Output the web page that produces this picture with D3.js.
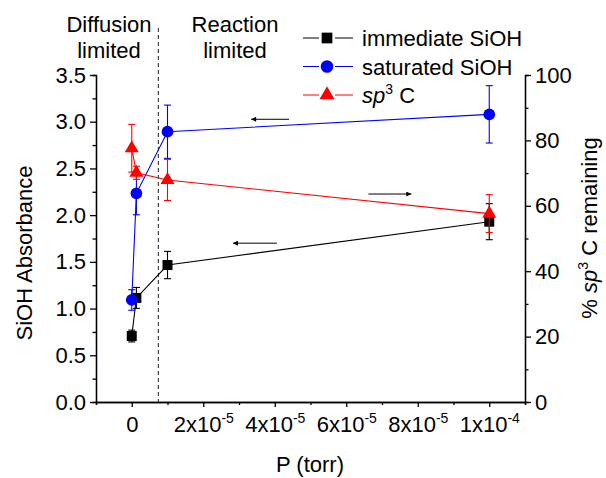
<!DOCTYPE html>
<html lang="en">
<head>
    <meta charset="UTF-8"/>
    <title>SiOH Absorbance vs Pressure</title>
    <script src="https://d3js.org/d3.v7.min.js"></script>
    <style>
        body { margin: 0; background: #fff; }
        svg text { font-family: "Liberation Sans", Arial, Helvetica, sans-serif; fill: #000; }
        .axis path, .axis line { stroke: #000; stroke-width: 1.3px; }
        .axis text { font-size: 22px; }
        .line { fill: none; stroke-width: 1.1px; }
    </style>
</head>
<body>
    <script>
        var w = 606;
        var h = 478;

        // pressure values (torr)
        var pressure = [0, 1.3e-6, 1e-5, 1e-4];

        // left axis series (SiOH absorbance)
        var immediateSiOH = [0.706, 1.114, 1.466, 1.93];
        var immediateErr = [0.063, 0.112, 0.146, 0.193];
        var saturatedSiOH = [1.092, 2.234, 2.893, 3.079];
        var saturatedErr = [0.11, 0.23, 0.285, 0.307];

        // right axis series (% sp3 C remaining)
        var sp3C = [77.6, 70.1, 67.9, 57.6];
        var sp3Err = [7.3, 2, 6.3, 5.8];

        var xTicks = [0, 2e-5, 4e-5, 6e-5, 8e-5, 1e-4];
        var xTickLabels = [["0", ""], ["2x10", "-5"], ["4x10", "-5"], ["6x10", "-5"], ["8x10", "-5"], ["1x10", "-4"]];
        var xMinorTicks = [-1e-5, 1e-5, 3e-5, 5e-5, 7e-5, 9e-5, 1.1e-4];
        var leftTicks = [0, 0.5, 1, 1.5, 2, 2.5, 3, 3.5];
        var leftMinorTicks = [0.25, 0.75, 1.25, 1.75, 2.25, 2.75, 3.25];
        var rightTicks = [0, 20, 40, 60, 80, 100];
        var rightMinorTicks = [10, 30, 50, 70, 90];

        // regime boundary (torr)
        var boundary = 7.45e-6;

        // arrows: [from x, to x, value, axis]
        var arrows = [
            [4.4e-5, 3.34e-5, 3.026, "left"],
            [4.06e-5, 2.83e-5, 1.70, "left"],
            [6.62e-5, 7.82e-5, 63.6, "right"]
        ];

        var xScale = d3.scaleLinear().domain([-1e-5, 1.1e-4]).range([96, 525]);
        var yLeft = d3.scaleLinear().domain([0, 3.5]).range([402, 75]);
        var yRight = d3.scaleLinear().domain([0, 100]).range([402, 75]);

        var svg = d3.select("body")
            .append("svg")
            .attr("width", w)
            .attr("height", h);

        svg.append("defs").append("marker")
            .attr("id", "arrowhead")
            .attr("viewBox", "0 0 10 10")
            .attr("refX", 10)
            .attr("refY", 5)
            .attr("markerWidth", 8)
            .attr("markerHeight", 5)
            .attr("markerUnits", "userSpaceOnUse")
            .attr("orient", "auto")
            .append("path")
            .attr("d", "M0,0L10,5L0,10Z")
            .attr("fill", "#000");

        // Minor ticks
        svg.append("g").attr("class", "axis")
            .attr("transform", "translate(0,402)")
            .call(d3.axisBottom(xScale).tickValues(xMinorTicks).tickSize(3).tickFormat(""));
        svg.append("g").attr("class", "axis")
            .attr("transform", "translate(96,0)")
            .call(d3.axisLeft(yLeft).tickValues(leftMinorTicks).tickSize(3.5).tickFormat(""));
        svg.append("g").attr("class", "axis")
            .attr("transform", "translate(525,0)")
            .call(d3.axisRight(yRight).tickValues(rightMinorTicks).tickSize(3.5).tickFormat(""));

        // X axis with superscript labels
        var xAxis = svg.append("g").attr("class", "axis")
            .attr("transform", "translate(0,402)")
            .call(d3.axisBottom(xScale).tickValues(xTicks).tickSize(5).tickSizeOuter(0).tickFormat(""));
        xAxis.selectAll(".tick text").remove();
        xAxis.selectAll(".tick").each(function(d, i) {
            var t = d3.select(this).append("text")
                .attr("y", 30)
                .attr("text-anchor", "middle");
            t.append("tspan").text(xTickLabels[i][0]);
            if (xTickLabels[i][1]) {
                t.append("tspan").attr("dy", -9).style("font-size", "14px").text(xTickLabels[i][1]);
            }
        });

        svg.append("g").attr("class", "axis")
            .attr("transform", "translate(96,0)")
            .call(d3.axisLeft(yLeft).tickValues(leftTicks).tickSize(6).tickSizeOuter(0)
                .tickPadding(4).tickFormat(d3.format(".1f")));

        svg.append("g").attr("class", "axis")
            .attr("transform", "translate(525,0)")
            .call(d3.axisRight(yRight).tickValues(rightTicks).tickSize(6).tickSizeOuter(0).tickPadding(4));

        // Regime boundary
        svg.append("line")
            .attr("x1", xScale(boundary)).attr("x2", xScale(boundary))
            .attr("y1", 28).attr("y2", yLeft(0))
            .attr("stroke", "#444")
            .attr("stroke-width", 1.2)
            .attr("stroke-dasharray", "4,3");

        svg.append("text").attr("x", 109).attr("y", 32).attr("text-anchor", "middle")
            .style("font-size", "22px").text("Diffusion");
        svg.append("text").attr("x", 109).attr("y", 58).attr("text-anchor", "middle")
            .style("font-size", "22px").text("limited");
        svg.append("text").attr("x", 235).attr("y", 32).attr("text-anchor", "middle")
            .style("font-size", "22px").text("Reaction");
        svg.append("text").attr("x", 235).attr("y", 58).attr("text-anchor", "middle")
            .style("font-size", "22px").text("limited");

        // Series
        var series = [
            { values: immediateSiOH, err: immediateErr, y: yLeft, color: "#000000", symbol: d3.symbolSquare, size: 100 },
            { values: saturatedSiOH, err: saturatedErr, y: yLeft, color: "#0000ff", symbol: d3.symbolCircle, size: 108 },
            { values: sp3C, err: sp3Err, y: yRight, color: "#ff0000", symbol: d3.symbolTriangle, size: 85 }
        ];

        series.forEach(function(s) {
            var pts = pressure.map(function(p, i) { return { x: p, v: s.values[i], e: s.err[i] }; });
            var line = d3.line()
                .x(function(d) { return xScale(d.x); })
                .y(function(d) { return s.y(d.v); });

            svg.append("path")
                .datum(pts)
                .attr("class", "line")
                .style("stroke", s.color)
                .attr("d", line);

            var eb = svg.append("g").attr("stroke", s.color).attr("stroke-width", 1.1);
            pts.forEach(function(d) {
                var cx = xScale(d.x);
                var top = s.y(d.v + d.e), bot = s.y(d.v - d.e);
                eb.append("line").attr("x1", cx).attr("x2", cx).attr("y1", top).attr("y2", bot);
                eb.append("line").attr("x1", cx - 3.5).attr("x2", cx + 3.5).attr("y1", top).attr("y2", top);
                eb.append("line").attr("x1", cx - 3.5).attr("x2", cx + 3.5).attr("y1", bot).attr("y2", bot);
            });

            svg.append("g").selectAll("path")
                .data(pts)
                .enter().append("path")
                .attr("transform", function(d) { return "translate(" + xScale(d.x) + "," + s.y(d.v) + ")"; })
                .attr("d", d3.symbol().type(s.symbol).size(s.size))
                .attr("fill", s.color);
        });

        // Arrows
        arrows.forEach(function(a) {
            var ys = a[3] === "left" ? yLeft : yRight;
            svg.append("line")
                .attr("x1", xScale(a[0])).attr("x2", xScale(a[1]))
                .attr("y1", ys(a[2])).attr("y2", ys(a[2]))
                .attr("stroke", "#000")
                .attr("stroke-width", 1)
                .attr("marker-end", "url(#arrowhead)");
        });

        // Legend
        var legend = svg.selectAll(".legend")
            .data(series)
            .enter().append("g")
            .attr("class", "legend")
            .attr("transform", function(d, i) { return "translate(0," + (38 + i * 28.5) + ")"; });

        legend.append("line").attr("x1", 303).attr("x2", 319).attr("stroke", function(d) { return d.color; });
        legend.append("line").attr("x1", 335).attr("x2", 353).attr("stroke", function(d) { return d.color; });
        legend.append("path")
            .attr("transform", "translate(327,0)")
            .attr("d", function(d) { return d3.symbol().type(d.symbol).size(d.size * 1.15)(); })
            .attr("fill", function(d) { return d.color; });

        var legendNames = ["immediate SiOH", "saturated SiOH"];
        legend.append("text")
            .attr("x", 362)
            .attr("y", 8)
            .style("font-size", "22px")
            .each(function(d, i) {
                var t = d3.select(this);
                if (i < 2) {
                    t.text(legendNames[i]);
                } else {
                    t.append("tspan").style("font-style", "italic").text("sp");
                    t.append("tspan").attr("dy", -9).style("font-size", "14px").text("3");
                    t.append("tspan").attr("dy", 9).text(" C");
                }
            });

        // Axis titles
        svg.append("text")
            .attr("x", 310).attr("y", 472)
            .attr("text-anchor", "middle")
            .style("font-size", "22px")
            .text("P (torr)");

        svg.append("text")
            .attr("transform", "translate(32,253) rotate(-90)")
            .attr("text-anchor", "middle")
            .style("font-size", "22px")
            .text("SiOH Absorbance");

        var rt = svg.append("text")
            .attr("transform", "translate(597,228) rotate(-90)")
            .attr("text-anchor", "middle")
            .style("font-size", "22px");
        rt.append("tspan").text("% ");
        rt.append("tspan").style("font-style", "italic").text("sp");
        rt.append("tspan").attr("dy", -9).style("font-size", "14px").text("3");
        rt.append("tspan").attr("dy", 9).text(" C remaining");
    </script>
</body>
</html>
